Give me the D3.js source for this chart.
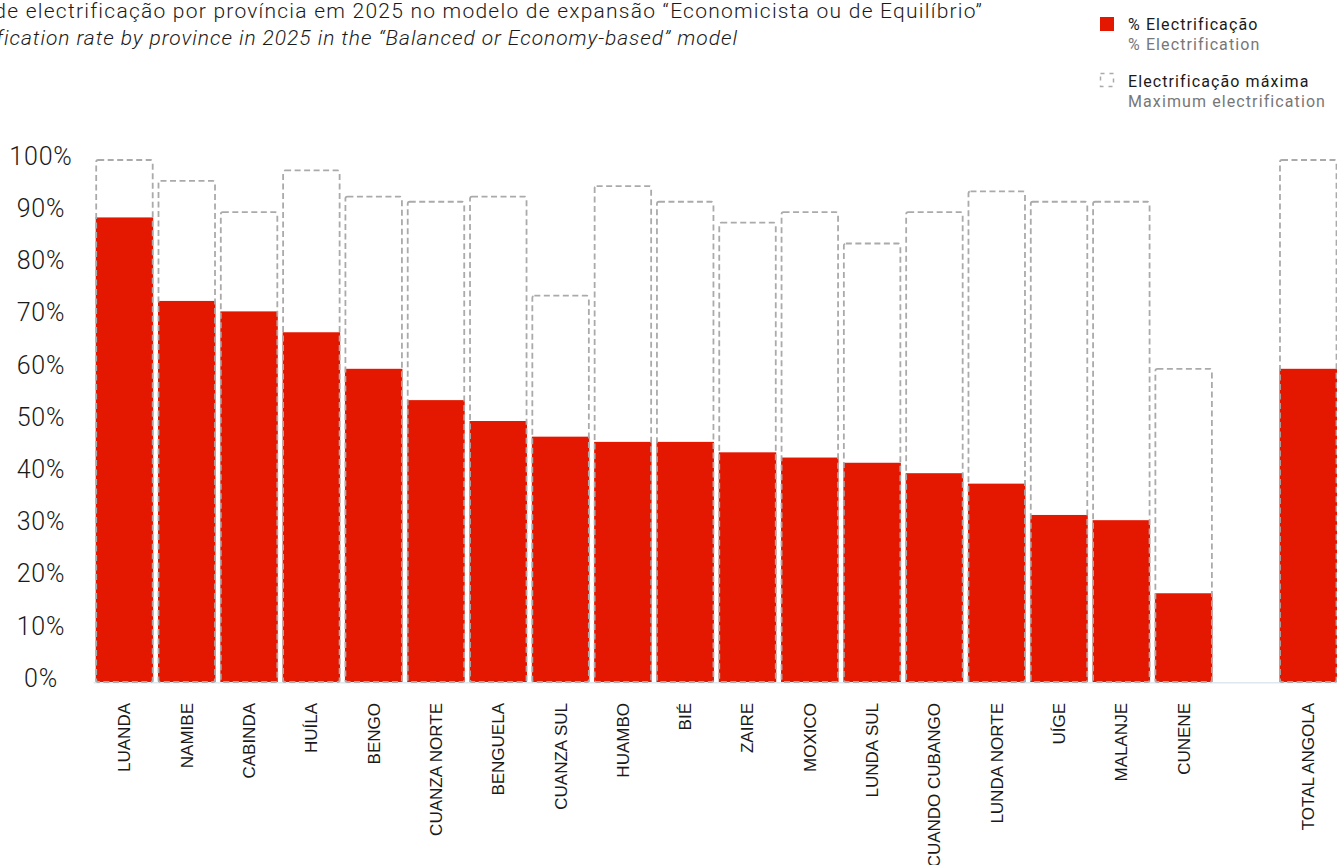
<!DOCTYPE html>
<html>
<head>
<meta charset="utf-8">
<script src="https://cdn.jsdelivr.net/npm/d3@7"></script>
<style>
  html, body { margin: 0; padding: 0; background: #fff; overflow: hidden; }
  svg { display: block; }
</style>
</head>
<body>
<svg id="chart" width="1337" height="865"></svg>
<script>
// Provinces, ordered as in the chart; an empty slot separates the national total
const provinces = ["LUANDA", "NAMIBE", "CABINDA", "HUÍLA", "BENGO", "CUANZA NORTE", "BENGUELA",
  "CUANZA SUL", "HUAMBO", "BIÉ", "ZAIRE", "MOXICO", "LUNDA SUL", "CUANDO CUBANGO",
  "LUNDA NORTE", "UÍGE", "MALANJE", "CUNENE"];
const totalLabel = "TOTAL ANGOLA";

// % electrification in 2025
const electrification = [89, 73, 71, 67, 60, 54, 50, 47, 46, 46, 44, 43, 42, 40, 38, 32, 31, 17];
const electrificationTotal = 60;

// Maximum electrification
const maxElectrification = [100, 96, 90, 98, 93, 92, 93, 74, 95, 92, 88, 90, 84, 90, 94, 92, 92, 60];
const maxElectrificationTotal = 100;

const yTicks = [0, 10, 20, 30, 40, 50, 60, 70, 80, 90, 100];

const titlePt = "Taxa de electrificação por província em 2025 no modelo de expansão “Economicista ou de Equilíbrio”";
const titleEn = "Electrification rate by province in 2025 in the “Balanced or Economy-based” model";

const RED = "#e41800";
const DASH = "#aaaaaa";

const svg = d3.select("#chart");

const rows = provinces.map((p, i) => ({ key: p, label: p, value: electrification[i], max: maxElectrification[i] }));
rows.push({ key: "__gap", label: "", value: null, max: null });
rows.push({ key: totalLabel, label: totalLabel, value: electrificationTotal, max: maxElectrificationTotal });

const x = d3.scaleBand()
  .domain(rows.map(d => d.key))
  .range([95.7, 1337])
  .paddingInner(0.077)
  .paddingOuter(0);

const y = d3.scaleLinear().domain([0, 100]).range([682, 160]);

// Title (runs off the left edge)
svg.append("text")
  .attr("x", 983).attr("y", 18)
  .attr("text-anchor", "end")
  .attr("font-family", "Roboto, sans-serif")
  .attr("font-weight", 300)
  .attr("font-size", 21)
  .attr("letter-spacing", 1.24)
  .attr("fill", "#1a1a1a")
  .text(titlePt);
svg.append("text")
  .attr("x", 738).attr("y", 45)
  .attr("text-anchor", "end")
  .attr("font-family", "Roboto, sans-serif")
  .attr("font-weight", 300)
  .attr("font-style", "italic")
  .attr("font-size", 21)
  .attr("letter-spacing", 0.95)
  .attr("fill", "#1a1a1a")
  .text(titleEn);

// Y axis labels
svg.append("g").selectAll("text")
  .data(yTicks)
  .join("text")
  .attr("x", 41)
  .attr("y", d => y(d) - 4)
  .attr("dy", "0.35em")
  .attr("text-anchor", "middle")
  .attr("font-family", "Roboto, sans-serif")
  .attr("font-weight", 300)
  .attr("font-size", 25)
  .attr("letter-spacing", 0.8)
  .attr("fill", "#1a1a1a")
  .text(d => d + "%");

// Baseline
svg.append("line")
  .attr("x1", x.range()[0] - 2).attr("x2", 1337)
  .attr("y1", y(0) + 0.8).attr("y2", y(0) + 0.8)
  .attr("stroke", "#dde8ef")
  .attr("stroke-width", 1.5);

const data = rows.filter(d => d.value !== null);

// Electrification bars
svg.append("g").selectAll("rect")
  .data(data)
  .join("rect")
  .attr("x", d => x(d.key))
  .attr("width", x.bandwidth())
  .attr("y", d => y(d.value))
  .attr("height", d => y(0) - y(d.value))
  .attr("fill", RED);

// Maximum electrification outlines
svg.append("g").selectAll("rect")
  .data(data)
  .join("rect")
  .attr("x", d => x(d.key) + 0.5)
  .attr("width", x.bandwidth() - 1)
  .attr("y", d => y(d.max))
  .attr("height", d => y(0) - y(d.max))
  .attr("rx", 2)
  .attr("fill", "none")
  .attr("stroke", DASH)
  .attr("stroke-width", 1.8)
  .attr("stroke-dasharray", "6,3.5");

// Category labels
svg.append("g").selectAll("text")
  .data(data)
  .join("text")
  .attr("transform", d => `translate(${x(d.key) + x.bandwidth() / 2},703) rotate(-90)`)
  .attr("dy", "0.35em")
  .attr("text-anchor", "end")
  .attr("font-family", "'Liberation Sans', Arial, sans-serif")
  .attr("font-size", 17)
  .attr("fill", "#1a1a1a")
  .text(d => d.label);

// Legend
const legend = svg.append("g")
  .attr("font-family", "Roboto, sans-serif")
  .attr("font-size", 16)
  .attr("letter-spacing", 1.1);
legend.append("rect").attr("x", 1100).attr("y", 17).attr("width", 14).attr("height", 14).attr("fill", RED);
legend.append("text").attr("x", 1128).attr("y", 30).attr("fill", "#1a1a1a").text("% Electrificação");
legend.append("text").attr("x", 1128).attr("y", 50).attr("fill", "#777").text("% Electrification");
legend.append("rect").attr("x", 1100.5).attr("y", 73.5).attr("width", 13).attr("height", 13)
  .attr("fill", "none").attr("stroke", DASH).attr("stroke-width", 1.5).attr("stroke-dasharray", "4,5");
legend.append("text").attr("x", 1128).attr("y", 87).attr("fill", "#1a1a1a").text("Electrificação máxima");
legend.append("text").attr("x", 1128).attr("y", 107).attr("fill", "#777").text("Maximum electrification");
</script>
</body>
</html>
